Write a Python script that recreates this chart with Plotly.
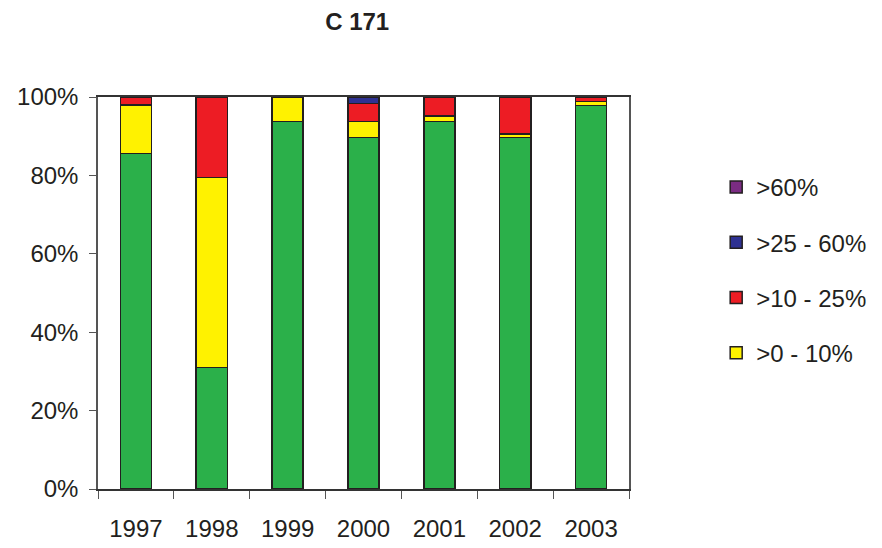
import plotly.graph_objects as go

years = ["1997", "1998", "1999", "2000", "2001", "2002", "2003"]

# Share of samples per class (%), stacked bottom to top
zero = [85.6, 31.0, 93.8, 89.7, 93.7, 89.7, 97.8]
gt0_10 = [12.3, 48.5, 6.2, 4.1, 1.5, 0.9, 1.0]
gt10_25 = [2.1, 20.5, 0.0, 4.5, 4.8, 9.4, 1.2]
gt25_60 = [0.0, 0.0, 0.0, 1.7, 0.0, 0.0, 0.0]
gt60 = [0.0, 0.0, 0.0, 0.0, 0.0, 0.0, 0.0]

y_ticks = [0, 20, 40, 60, 80, 100]
y_tick_labels = ["0%", "20%", "40%", "60%", "80%", "100%"]

series = [
    ("0%", zero, "#2BB04A", False, 5),
    (">0 - 10%", gt0_10, "#FFF200", True, 4),
    (">10 - 25%", gt10_25, "#ED1C24", True, 3),
    (">25 - 60%", gt25_60, "#2E3192", True, 2),
    (">60%", gt60, "#7B2C83", True, 1),
]

fig = go.Figure()
for name, vals, color, show, rank in series:
    fig.add_trace(go.Bar(
        x=years, y=vals, name=name, showlegend=show, legendgroup=name,
        legendrank=rank,
        marker=dict(color=color, line=dict(color="#231F20", width=1.5)),
    ))

font = "Liberation Sans, Arial, sans-serif"
fig.update_layout(
    barmode="stack",
    bargap=0.59,
    width=882, height=548,
    margin=dict(l=98, r=253, t=97, b=59, autoexpand=False),
    paper_bgcolor="white", plot_bgcolor="white",
    font=dict(family=font, size=24, color="#231F20"),
    title=dict(text="<b>C 171</b>", x=0.405, xanchor="center", y=0.96, yanchor="middle",
               font=dict(size=24, family=font)),
    legend=dict(
        traceorder="grouped", tracegroupgap=21,
        xref="container", yref="container",
        x=0.812, xanchor="left", y=0.699, yanchor="top",
        font=dict(size=24), itemwidth=30,
    ),
    xaxis=dict(
        type="category", tickson="boundaries", ticks="outside", ticklen=8,
        tickcolor="#555", showline=True, linecolor="#333", linewidth=1.5,
        mirror=True, ticklabelstandoff=17, showgrid=False, automargin=False,
    ),
    yaxis=dict(
        range=[0, 100], tickvals=y_ticks, ticktext=y_tick_labels,
        ticks="outside", ticklen=7, tickcolor="#555", showline=True,
        linecolor="#555", linewidth=1.5, mirror=True, showgrid=False,
        zeroline=False, ticklabelstandoff=6, automargin=False,
    ),
)

fig.write_html("out.html")
